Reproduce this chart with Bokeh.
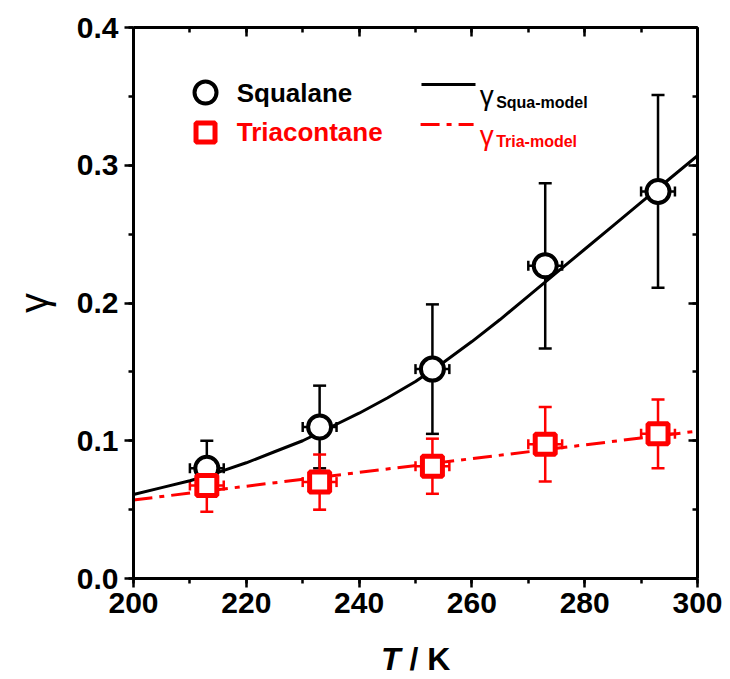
from bokeh.plotting import figure
from bokeh.models import (Range1d, LinearAxis, SingleIntervalTicker, Whisker, Div,
                          ColumnDataSource, Label, TeeHead, NumeralTickFormatter,
                          CustomJSTickFormatter)
from bokeh.layouts import column
from bokeh.embed import file_html
from bokeh.resources import INLINE

# ---- data ----
T = [213, 233, 253, 273, 293]
T_err = [3, 3, 3, 3, 3]
squalane = [0.080, 0.110, 0.152, 0.227, 0.281]
squalane_err = [0.020, 0.030, 0.047, 0.060, 0.070]
triacontane = [0.0675, 0.070, 0.0815, 0.0975, 0.1050]
triacontane_err = [0.019, 0.020, 0.020, 0.027, 0.025]

model_T = [200, 205, 210, 215, 220, 225, 230, 235, 240, 245, 250,
           255, 260, 265, 270, 275, 280, 285, 290, 295, 300]
squa_model = [0.061, 0.066, 0.071, 0.077, 0.084, 0.092, 0.100, 0.110, 0.120, 0.131, 0.143,
              0.157, 0.172, 0.188, 0.205, 0.222, 0.239, 0.256, 0.273, 0.290, 0.307]
tria_T = [200, 253, 300]
tria_model = [0.057, 0.0835, 0.107]

x_ticks_interval = 20
y_ticks_interval = 0.1

FONT = "Liberation Sans"
RED = "#ff0000"

p = figure(width=730, height=640, x_range=Range1d(200, 300), y_range=Range1d(0, 0.4),
           output_backend="svg", toolbar_location=None,
           min_border_left=133, min_border_right=33, min_border_top=27, min_border_bottom=62)
p.grid.visible = False
p.outline_line_color = None
p.background_fill_color = "white"
p.border_fill_color = "white"

xt = SingleIntervalTicker(interval=x_ticks_interval, num_minor_ticks=2)
yt = SingleIntervalTicker(interval=y_ticks_interval, num_minor_ticks=2)

def style_axis(ax, inward=False, labels=True):
    ax.axis_line_width = 3
    ax.axis_line_color = "black"
    ax.major_tick_line_width = 2.5
    ax.minor_tick_line_width = 2.5
    ax.major_tick_line_color = "black"
    ax.minor_tick_line_color = "black"
    if inward:
        ax.major_tick_in = 9
        ax.major_tick_out = 0
        ax.minor_tick_in = 5
        ax.minor_tick_out = 0
    else:
        ax.major_tick_in = 0
        ax.major_tick_out = 9
        ax.minor_tick_in = 0
        ax.minor_tick_out = 5
    if labels:
        ax.major_label_text_font = FONT
        ax.major_label_text_font_style = "bold"
        ax.major_label_text_font_size = "30px"
        ax.major_label_text_color = "black"
    else:
        ax.formatter = CustomJSTickFormatter(code="return ''")
        ax.major_label_text_font_size = "10px"
        ax.major_label_standoff = 0

xa = p.xaxis[0]
xa.ticker = xt
style_axis(xa)
xa.major_label_standoff = 5

ya = p.yaxis[0]
ya.ticker = yt
ya.formatter = NumeralTickFormatter(format="0.0")
style_axis(ya)
ya.major_label_standoff = 6
ya.axis_label = "γ"
ya.axis_label_orientation = "vertical"
ya.axis_label_text_font = FONT
ya.axis_label_text_font_style = "normal"
ya.axis_label_text_font_size = "40px"
ya.axis_label_text_color = "black"
ya.axis_label_standoff = 18

top = LinearAxis(ticker=SingleIntervalTicker(interval=x_ticks_interval, num_minor_ticks=2))
style_axis(top, inward=True, labels=False)
p.add_layout(top, "above")
right = LinearAxis(ticker=SingleIntervalTicker(interval=y_ticks_interval, num_minor_ticks=2))
style_axis(right, inward=True, labels=False)
p.add_layout(right, "right")

# ---- model curves ----
p.line(model_T, squa_model, line_color="black", line_width=3)
p.line(tria_T, tria_model, line_color=RED, line_width=3, line_dash="19 7 5 7")

# ---- error bars ----
def errbars(vals, errs, color):
    src = ColumnDataSource(dict(
        x=T, y=vals,
        lo=[v - e for v, e in zip(vals, errs)], hi=[v + e for v, e in zip(vals, errs)],
        xl=[t - e for t, e in zip(T, T_err)], xh=[t + e for t, e in zip(T, T_err)]))
    w = Whisker(base="x", lower="lo", upper="hi", source=src, dimension="height",
                line_color=color, line_width=2.5,
                lower_head=TeeHead(size=13, line_color=color, line_width=2.5),
                upper_head=TeeHead(size=13, line_color=color, line_width=2.5))
    h = Whisker(base="y", lower="xl", upper="xh", source=src, dimension="width",
                line_color=color, line_width=2.5,
                lower_head=TeeHead(size=10, line_color=color, line_width=2.5),
                upper_head=TeeHead(size=10, line_color=color, line_width=2.5))
    p.add_layout(w)
    p.add_layout(h)

errbars(squalane, squalane_err, "black")
errbars(triacontane, triacontane_err, RED)

p.scatter(T, squalane, marker="circle", size=23, line_width=4,
          line_color="black", fill_color="white")
p.scatter(T, triacontane, marker="square", size=20, line_width=5,
          line_color=RED, fill_color="white")

# ---- legend (drawn by hand) ----
p.scatter([212.77], [0.3528], marker="circle", size=22, line_width=4,
          line_color="black", fill_color="white")
p.scatter([212.77], [0.3238], marker="square", size=19, line_width=5,
          line_color=RED, fill_color="white")
p.add_layout(Label(x=218.3, y=0.3528, text="Squalane", text_font=FONT, text_font_style="bold",
                   text_font_size="26px", text_color="black", text_baseline="middle"))
p.add_layout(Label(x=218.3, y=0.3238, text="Triacontane", text_font=FONT, text_font_style="bold",
                   text_font_size="26px", text_color=RED, text_baseline="middle"))
p.line([251.06, 260.64], [0.3586, 0.3586], line_color="black", line_width=3)
p.line([250.9, 260.3], [0.3296, 0.3296], line_color=RED, line_width=3, line_dash="19 7 5 7")
p.add_layout(Label(x=261.4, y=0.3506, text="γ", text_font=FONT, text_font_size="28px",
                   text_color="black", text_baseline="alphabetic"))
p.add_layout(Label(x=264.3, y=0.3455, text="Squa-model", text_font=FONT, text_font_style="bold",
                   text_font_size="16px", text_color="black", text_baseline="alphabetic"))
p.add_layout(Label(x=261.4, y=0.3216, text="γ", text_font=FONT, text_font_size="28px",
                   text_color=RED, text_baseline="alphabetic"))
p.add_layout(Label(x=264.3, y=0.3172, text="Tria-model", text_font=FONT, text_font_style="bold",
                   text_font_size="16px", text_color=RED, text_baseline="alphabetic"))

# ---- x axis title with italic T ----
xtitle = Div(width=730, height=39,
             text=('<div style="position:absolute; left:381px; top:1px; white-space:nowrap; '
                   'font-family:\'Liberation Sans\'; font-weight:bold; font-size:32px; '
                   'line-height:37px; color:black;"><i>T</i> / K</div>'),
             styles={"margin": "0", "padding": "0"})

layout = column(p, xtitle, spacing=0)
open("out.html", "w").write(file_html(layout, INLINE))
